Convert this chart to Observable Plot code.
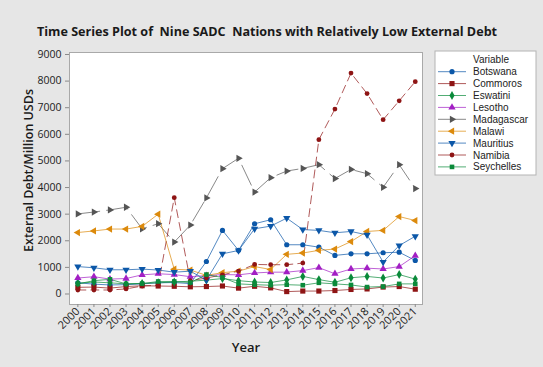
<!DOCTYPE html>
<html>
<head>
<meta charset="utf-8">
<script src="https://cdn.jsdelivr.net/npm/d3@7"></script>
<script src="https://cdn.jsdelivr.net/npm/@observablehq/plot@0.6"></script>
<style>
  html, body { margin: 0; padding: 0; background: #e6e6e6; }
  #chart { width: 543px; height: 367px; }
</style>
</head>
<body>
<div id="chart"></div>
<script>
// External debt (million USD) of nine SADC nations, 2000–2021
const years = d3.range(2000, 2022);
const yTicks = [0, 1000, 2000, 3000, 4000, 5000, 6000, 7000, 8000, 9000];

const botswana   = [420, 370, 340, 350, 380, 420, 430, 390, 1220, 2390, 1640, 2640, 2790, 1850, 1850, 1760, 1450, 1510, 1510, 1550, 1570, 1260];
const commoros   = [250, 260, 220, 280, 310, 300, 290, 270, 280, 300, 220, 290, 230, 90, 110, 110, 130, 170, 190, 260, 280, 180];
const eswatini   = [400, 450, 420, 380, 400, 420, 450, 480, 520, 580, 500, 450, 430, 530, 660, 540, 440, 610, 660, 600, 730, 560];
const lesotho    = [600, 650, 560, 580, 720, 760, 730, 650, 690, 730, 720, 790, 820, 820, 880, 990, 760, 940, 970, 940, 1030, 1440];
const madagascar = [3010, 3080, 3160, 3260, 2450, 2640, 1950, 2590, 3610, 4710, 5100, 3830, 4370, 4620, 4720, 4860, 4340, 4680, 4520, 4010, 4860, 3960];
const malawi     = [2310, 2370, 2440, 2440, 2540, 3000, 930, 900, 700, 800, 860, 1030, 920, 1490, 1540, 1640, 1690, 1970, 2350, 2390, 2910, 2760];
const mauritius  = [1030, 985, 910, 910, 935, 900, 820, 857, 520, 1510, 1635, 2450, 2550, 2850, 2420, 2390, 2300, 2350, 2220, 1200, 1820, 2170];
const namibia    = [150, 150, 150, 190, 300, 330, 3620, 500, 600, 720, 860, 1110, 1100, 1100, 1160, 5800, 6950, 8300, 7530, 6550, 7260, 7980];
const seychelles = [380, 500, 550, 380, 390, 470, 470, 430, 730, 620, 380, 350, 330, 350, 330, 420, 380, 340, 260, 280, 380, 380];

// Triangles pointing in any direction, sized like d3 symbols (area = size)
function triangle(angleDeg) {
  return {
    draw(ctx, size) {
      const R = Math.sqrt(size / (3 * Math.sqrt(3) / 4));
      for (let k = 0; k < 3; ++k) {
        const a = (angleDeg + k * 120) * Math.PI / 180;
        const px = R * Math.cos(a), py = R * Math.sin(a);
        if (k === 0) ctx.moveTo(px, py); else ctx.lineTo(px, py);
      }
      ctx.closePath();
    }
  };
}
const triUp = triangle(-90), triDown = triangle(90), triRight = triangle(0), triLeft = triangle(180);

const series = [
  {name: "Botswana",   values: botswana,   color: "#0b57a8", symbol: d3.symbolCircle, r: 2.6, dash: null},
  {name: "Commoros",   values: commoros,   color: "#8e1414", symbol: d3.symbolSquare, r: 2.9, dash: null},
  {name: "Eswatini",   values: eswatini,   color: "#0a8a3a", symbol: d3.symbolDiamond, r: 2.7, dash: null},
  {name: "Lesotho",    values: lesotho,    color: "#a21fc4", symbol: triUp,    r: 2.7, dash: null},
  {name: "Madagascar", values: madagascar, color: "#555555", symbol: triRight, r: 2.7, dash: "22,7"},
  {name: "Malawi",     values: malawi,     color: "#dc8a0c", symbol: triLeft,  r: 2.7, dash: null},
  {name: "Mauritius",  values: mauritius,  color: "#0b57a8", symbol: triDown,  r: 2.7, dash: null},
  {name: "Namibia",    values: namibia,    color: "#8e1414", symbol: d3.symbolCircle, r: 2.4, dash: "8,5"},
  {name: "Seychelles", values: seychelles, color: "#0a8a3a", symbol: d3.symbolSquare, r: 2.6, dash: null}
];

const rows = series.flatMap(s => years.map((year, i) => ({name: s.name, year, value: s.values[i]})));

const font = "'Open Sans', 'Noto Sans', sans-serif";
const legendFont = "'Liberation Sans', Arial, sans-serif";

const marks = [
  Plot.frame({fill: "white", stroke: "#a9a9a9"}),
  Plot.axisY({ticks: yTicks, tickFormat: d => String(d), tickSize: 4, tickPadding: 4, label: null, fontSize: 10.5, stroke: "#8a8a8a", color: "#222"}),
  Plot.axisX({ticks: years, tickFormat: d => String(d), tickRotate: -45, tickSize: 3, tickPadding: 2, label: null, fontSize: 11, stroke: "#8a8a8a", color: "#222"})
];

for (const s of series) {
  const data = rows.filter(d => d.name === s.name);
  marks.push(Plot.line(data, {x: "year", y: "value", stroke: s.color, strokeWidth: 1, strokeOpacity: 0.7, strokeDasharray: s.dash}));
}
for (const s of series) {
  const data = rows.filter(d => d.name === s.name);
  marks.push(Plot.dot(data, {x: "year", y: "value", fill: s.color, stroke: "none", symbol: s.symbol, r: s.r}));
}

marks.push(
  Plot.text(["Time Series Plot of  Nine SADC  Nations with Relatively Low External Debt"], {
    frameAnchor: "top", textAnchor: "middle", lineAnchor: "middle", dx: 21, dy: -21, fontSize: 12.6, fontWeight: "bold", fill: "#1a1a1a"
  }),
  Plot.text(["External Debt/Million USDs"], {
    frameAnchor: "left", textAnchor: "middle", lineAnchor: "middle", dx: -41, dy: -8, rotate: -90, fontSize: 12.5, fontWeight: 600, fill: "#1a1a1a"
  }),
  Plot.text(["Year"], {
    frameAnchor: "bottom", textAnchor: "middle", lineAnchor: "middle", dx: 0, dy: 43, fontSize: 13, fontWeight: 600, fill: "#1a1a1a"
  })
);

const chart = Plot.plot({
  width: 543,
  height: 367,
  marginLeft: 69,
  marginRight: 121,
  marginTop: 52,
  marginBottom: 63,
  style: {background: "#e6e6e6", fontFamily: font, overflow: "visible"},
  x: {type: "linear", domain: [1999.48, 2021.45]},
  y: {domain: [-395, 9075]},
  marks
});

// Legend box drawn into the same SVG
const svg = d3.select(chart);
const lg = svg.append("g").attr("transform", "translate(435,51)")
  .style("font-family", legendFont).style("font-size", "10px");
lg.append("rect").attr("width", 101).attr("height", 124)
  .style("fill", "#ffffff").style("stroke", "#b4b4b4");
lg.append("text").attr("x", 56).attr("y", 12).style("text-anchor", "middle").style("fill", "#222").text("Variable");
series.forEach((s, i) => {
  const y = 20.7 + i * 11.9;
  const row = lg.append("g").attr("transform", `translate(0,${y})`);
  row.append("line").attr("x1", 3).attr("x2", 31).attr("y1", 0).attr("y2", 0)
    .style("stroke", s.color).style("stroke-opacity", 0.7).style("stroke-width", 1);
  row.append("path").attr("transform", "translate(17,0)").style("fill", s.color).style("stroke", "none")
    .attr("d", d3.symbol(s.symbol, Math.PI * s.r * s.r)());
  row.append("text").attr("x", 38).attr("dy", "0.35em").style("text-anchor", "start").style("fill", "#222").text(s.name);
});

document.getElementById("chart").appendChild(chart);
</script>
</body>
</html>
